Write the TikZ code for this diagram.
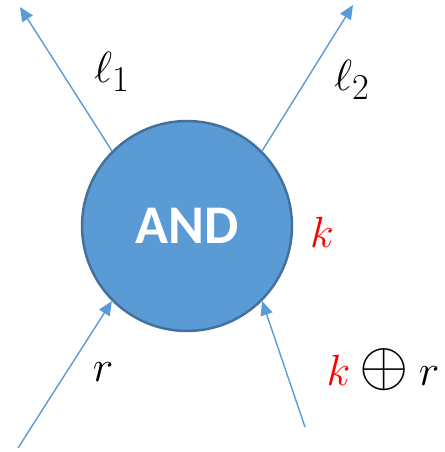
\documentclass[tikz,border=0pt]{standalone}
\usepackage{amsmath,amssymb}
\usepackage{fontspec}
\newfontfamily\gatefont{Carlito}
\usepackage{tikz}
\usetikzlibrary{arrows.meta,positioning}
\definecolor{gateblue}{HTML}{5B9BD5}
\definecolor{gateedge}{HTML}{41719C}

\tikzset{
  gatenode/.style={circle,fill=gateblue,draw=gateedge,line width=1.4pt,
                   minimum size=4.2cm,inner sep=0pt,
                   font=\gatefont\bfseries\fontsize{31}{36}\selectfont,text=white},
  wire/.style={gateblue,line width=0.8pt,-{Triangle[length=8pt,width=7pt]}},
  lbl/.style={font=\fontsize{30}{36}\selectfont,inner sep=0pt}
}
\newcommand{\bigxor}{\mathbin{\scalebox{1.45}{$\oplus$}}}

\begin{document}
\begin{tikzpicture}[x=0.02cm,y=0.02cm]
  \useasboundingbox (0,0) rectangle (444,452);
  % the gate
  \node[gatenode] (gate) at (187,226) {AND};
  % free ends of the wires
  \coordinate (lonetip) at (20,445);
  \coordinate (ltwotip) at (353,447);
  \coordinate (rtail) at (18,4);
  \coordinate (krtail) at (305,25);
  % outputs
  \foreach \a/\e in {135/lonetip,45/ltwotip}{
    \draw[wire] (gate.\a) -- (\e);
  }
  % inputs
  \foreach \s/\a in {rtail/225,krtail/315}{
    \draw[wire] (\s) -- (gate.\a);
  }
  % labels
  \node[lbl] (lone) at (112,380) {$\ell_1$};
  \node[lbl] (ltwo) at (352,372) {$\ell_2$};
  \node[lbl,text=red] (key) at (322,220) {$k$};
  \node[lbl] (rin) at (103,80) {$r$};
  \node[lbl] (krin) at (383,82) {$\textcolor{red}{k}\bigxor r$};
\end{tikzpicture}
\end{document}
